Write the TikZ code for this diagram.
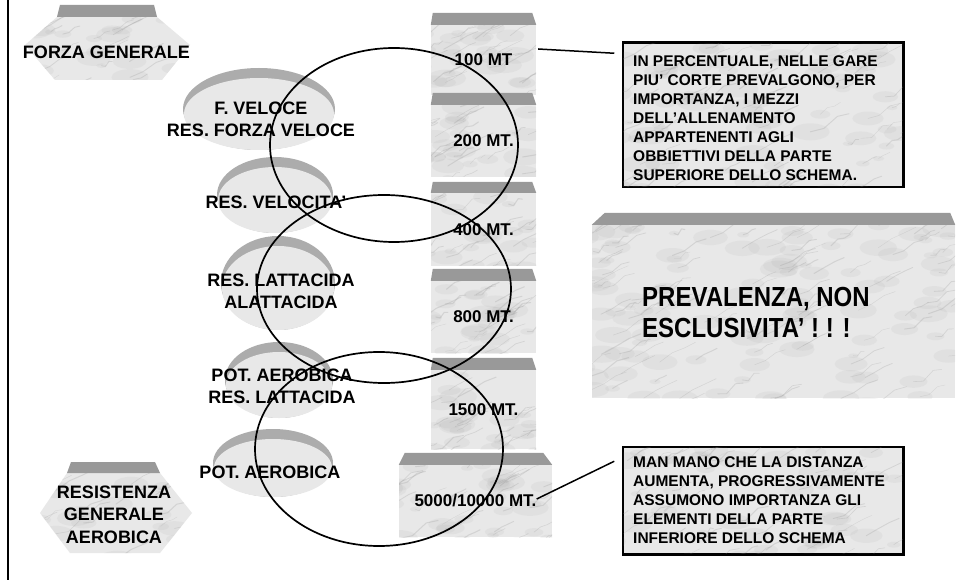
\documentclass[tikz,border=0pt]{standalone}
\usepackage{fontspec}
\usepackage{graphicx}
\setmainfont{Liberation Sans}
\usetikzlibrary{calc}
\definecolor{marble}{RGB}{232,232,232}
\definecolor{bandgray}{RGB}{153,153,153}
\definecolor{discrim}{RGB}{172,172,172}
\definecolor{vein}{RGB}{140,140,140}
\newcommand\veins[6]{% seed, count, x1, y1, x2, y2
  \pgfmathsetseed{#1}%
  \foreach \k in {1,...,#2}{%
    \pgfmathsetmacro\vx{#3+rnd*(#5-#3)}%
    \pgfmathsetmacro\vy{#4+rnd*(#6-#4)}%
    \pgfmathsetmacro\vl{10+rnd*30}%
    \pgfmathsetmacro\vw{0.3+rnd*0.8}%
    \pgfmathsetmacro\vb{rnd*8-4}%
    \fill[vein, opacity=0.08] (\vx,\vy) ellipse [x radius=\vl*0.5, y radius=\vl*0.22];
    \draw[vein, opacity=0.22, line width=\vw*1pt, line cap=round, line join=round]
      (\vx,\vy) -- ++(\vl*0.35,-\vl*0.15+\vb) -- ++(\vl*0.35,-\vl*0.25-\vb) -- ++(\vl*0.3,-\vl*0.1+\vb*0.5);
  }}
\newcommand\mydisc[5]{% cx cy rx ry seed
  \fill[discrim] (#1,#2) ellipse [x radius=#3, y radius=#4];
  \fill[marble] (#1,#2+5) ellipse [x radius=#3-1, y radius=#4-5];
  \begin{scope}
    \clip (#1,#2+5) ellipse [x radius=#3-1, y radius=#4-5];
    \veins{#5}{22}{#1-#3-20}{#2-#4}{#1+#3}{#2+#4+10}
  \end{scope}}
\newcommand\topband[4]{%
  \fill[bandgray] ($(#1.north west)+(#2,-#4)$) -- ($(#1.north east)+(-#3,-#4)$) -- (#1.north east) -- (#1.north west) -- cycle;}
\begin{document}
\begin{tikzpicture}[x=1pt,y=-1pt,
  lbl/.style={font=\bfseries\fontsize{18}{22}\selectfont, align=center, inner sep=0pt},
  boxlbl/.style={font=\bfseries\fontsize{17}{20}\selectfont},
  mbox/.style={fill=marble, draw=none, minimum width=105pt, inner sep=0pt},
  callout/.style={fill=marble, draw=black, line width=1.5pt, inner sep=0pt, minimum width=280pt},
  calltxt/.style={font=\bfseries\fontsize{15.5}{19}\selectfont, align=left, inner sep=0pt, anchor=west},
  ring/.style={draw=black, line width=1.7pt},
  link/.style={draw=black, line width=1.5pt}
]
\useasboundingbox (0,0) rectangle (962,580);
\fill[white] (0,0) rectangle (962,580);
\draw[line width=2.5pt] (8,0) -- (8,580);

% hexagon FORZA GENERALE
\fill[marble] (57,17) -- (157,17) -- (190,45) -- (162,80) -- (55,80) -- (25,45) -- cycle;
\begin{scope}
  \clip (57,17) -- (157,17) -- (190,45) -- (162,80) -- (55,80) -- (25,45) -- cycle;
  \veins{11}{26}{5}{17}{190}{90}
\end{scope}
\fill[bandgray] (60,5) -- (154,5) -- (157,17) -- (57,17) -- cycle;
\node[lbl] (fg) at (106.5,52) {FORZA GENERALE};

% hexagon RESISTENZA GENERALE AEROBICA
\fill[marble] (67,473) -- (160,473) -- (192,513) -- (160,553) -- (70,553) -- (40,513) -- cycle;
\begin{scope}
  \clip (67,473) -- (160,473) -- (192,513) -- (160,553) -- (70,553) -- (40,513) -- cycle;
  \veins{12}{26}{20}{473}{192}{563}
\end{scope}
\fill[bandgray] (71,462) -- (155,462) -- (160,473) -- (67,473) -- cycle;
\node[lbl, font=\bfseries\fontsize{18}{22.5}\selectfont] (rga) at (114,514.5) {RESISTENZA\\GENERALE\\AEROBICA};

% discs
\mydisc{259}{109}{76}{41}{21}
\mydisc{275}{195}{58}{38}{22}
\mydisc{278}{283}{57}{47}{23}
\mydisc{279}{380}{54}{38}{24}
\mydisc{273}{463}{60}{34}{25}
\node[lbl] (fv) at (261,119) {F. VELOCE\\RES. FORZA VELOCE};
\node[lbl] (rv) at (276,202) {RES. VELOCITA’};
\node[lbl] (rl) at (281,291) {RES. LATTACIDA\\ALATTACIDA};
\node[lbl] (pa) at (282,386) {POT. AEROBICA\\RES. LATTACIDA};
\node[lbl] (pa2) at (270,472) {POT. AEROBICA};

% distance boxes
\node[mbox, minimum height=70pt] (b100) at (483.5,60) {};
\node[mbox, minimum height=72pt] (b200) at (483.5,141) {};
\node[mbox, minimum height=73pt] (b400) at (483.5,229.5) {};
\node[mbox, minimum height=72pt] (b800) at (483.5,317) {};
\node[mbox, minimum height=79pt] (b1500) at (483.5,409.5) {};
\node[mbox, minimum width=153pt, minimum height=72pt] (b5000) at (475.5,501) {};
\begin{scope}\clip (431,25) rectangle (536,95); \veins{31}{26}{411}{25}{536}{105}\end{scope}
\begin{scope}\clip (431,105) rectangle (536,177); \veins{32}{26}{411}{105}{536}{187}\end{scope}
\begin{scope}\clip (431,193) rectangle (536,266); \veins{33}{26}{411}{193}{536}{276}\end{scope}
\begin{scope}\clip (431,281) rectangle (536,353); \veins{34}{26}{411}{281}{536}{363}\end{scope}
\begin{scope}\clip (431,370) rectangle (536,449); \veins{35}{26}{411}{370}{536}{459}\end{scope}
\begin{scope}\clip (399,465) rectangle (552,537); \veins{36}{34}{379}{465}{552}{547}\end{scope}
\topband{b100}{2}{4}{12}
\topband{b200}{2}{4}{12}
\topband{b400}{2}{4}{11}
\topband{b800}{2}{4}{12}
\topband{b1500}{2}{4}{12}
\topband{b5000}{6}{9}{12}
\node[boxlbl, inner sep=0pt] (l100) at (b100.center) {100 MT};
\node[boxlbl, inner sep=0pt] (l200) at (b200.center) {200 MT.};
\node[boxlbl, inner sep=0pt] (l400) at (b400.center) {400 MT.};
\node[boxlbl, inner sep=0pt] (l800) at (b800.center) {800 MT.};
\node[boxlbl, inner sep=0pt] (l1500) at (b1500.center) {1500 MT.};
\node[boxlbl, inner sep=0pt] (l5000) at (b5000.center) {5000/10000 MT.};

% big box
\node[fill=marble, minimum width=363pt, minimum height=173pt, inner sep=0pt] (prev) at (773.5,311.5) {};
\begin{scope}\clip (592,225) rectangle (955,398); \veins{41}{120}{572}{225}{955}{408}\end{scope}
\topband{prev}{13}{5}{12}
\node[font=\bfseries\fontsize{24}{31}\selectfont, align=left, anchor=west, inner sep=0pt] (prevtxt) at (642,312.5) {\scalebox{1}[1.15]{PREVALENZA, NON}\\\scalebox{1}[1.15]{ESCLUSIVITA’ ! ! !}};

% callouts
\node[callout, minimum height=144pt] (call1) at (763,115) {};
\begin{scope}\clip (623,43) rectangle (903,187); \veins{51}{70}{603}{43}{903}{197}\end{scope}
\draw[line width=1.5pt] (call1.north west) rectangle (call1.south east);
\node[calltxt] (t1) at (633,118.5) {IN PERCENTUALE, NELLE GARE\\PIU’ CORTE PREVALGONO, PER\\IMPORTANZA, I MEZZI\\DELL’ALLENAMENTO\\APPARTENENTI AGLI\\OBBIETTIVI DELLA PARTE\\SUPERIORE DELLO SCHEMA.};
\node[callout, minimum height=107pt] (call2) at (763,500.5) {};
\begin{scope}\clip (623,447) rectangle (903,554); \veins{52}{54}{603}{447}{903}{564}\end{scope}
\draw[line width=1.5pt] (call2.north west) rectangle (call2.south east);
\node[calltxt] (t2) at (633,500) {MAN MANO CHE LA DISTANZA\\AUMENTA, PROGRESSIVAMENTE\\ASSUMONO IMPORTANZA GLI\\ELEMENTI DELLA PARTE\\INFERIORE DELLO SCHEMA};

% connectors
\draw[link] ($(b100.east)+(2,-11)$) -- ($(call1.north west)+(-8,11)$);
\draw[link] ($(l5000.east)+(0,-2)$) -- ($(call2.north west)+(-8,15)$);

% big rings
\draw[ring] (394,145) ellipse [x radius=124, y radius=97];
\draw[ring] (384,289) ellipse [x radius=127, y radius=94];
\draw[ring] (379,449) ellipse [x radius=124, y radius=97];
\end{tikzpicture}
\end{document}
